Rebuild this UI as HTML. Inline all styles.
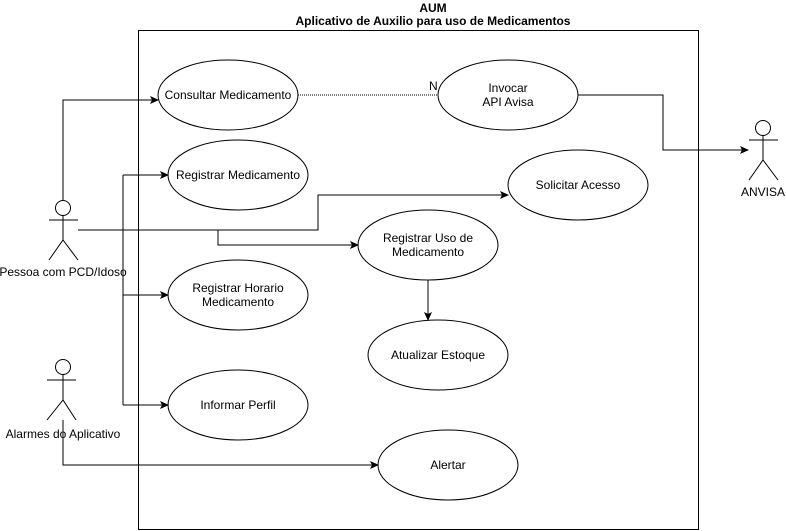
<!DOCTYPE html>
<html><head><meta charset="utf-8"><style>
html,body{margin:0;padding:0;background:#fff;}
svg{display:block;}
text{font-family:"Liberation Sans",Arial,sans-serif;font-size:12px;fill:#000;}
</style></head><body>
<svg width="786" height="531" viewBox="0 0 786 531" xmlns="http://www.w3.org/2000/svg">
<defs>
<marker id="a" markerWidth="10" markerHeight="10" refX="8" refY="4" orient="auto" markerUnits="userSpaceOnUse">
<path d="M0,0 L9,4 L0,8 L2,4 Z" fill="#000"/>
</marker>
</defs>
<text x="433" y="12" text-anchor="middle" font-weight="bold">AUM</text>
<text x="433" y="25" text-anchor="middle" font-weight="bold">Aplicativo de Auxilio para uso de Medicamentos</text>
<rect x="138.5" y="30.5" width="560" height="499" fill="none" stroke="#000"/>

<g fill="#fff" stroke="#000">
<ellipse cx="228" cy="95" rx="70" ry="35"/>
<ellipse cx="508" cy="95" rx="70" ry="35"/>
<ellipse cx="238" cy="175" rx="70" ry="35"/>
<ellipse cx="578" cy="185" rx="70" ry="35"/>
<ellipse cx="428" cy="245" rx="70" ry="35"/>
<ellipse cx="238" cy="295" rx="70" ry="35"/>
<ellipse cx="438" cy="355" rx="70" ry="35"/>
<ellipse cx="238" cy="405" rx="70" ry="35"/>
<ellipse cx="448" cy="465" rx="70" ry="35"/>
</g>
<g text-anchor="middle">
<text x="228" y="99">Consultar Medicamento</text>
<text x="508" y="92">Invocar</text>
<text x="508" y="106">API Avisa</text>
<text x="238" y="179">Registrar Medicamento</text>
<text x="578" y="189">Solicitar Acesso</text>
<text x="428" y="242">Registrar Uso de</text>
<text x="428" y="256">Medicamento</text>
<text x="238" y="292">Registrar Horario</text>
<text x="238" y="306">Medicamento</text>
<text x="438" y="359">Atualizar Estoque</text>
<text x="238" y="409">Informar Perfil</text>
<text x="448" y="469">Alertar</text>
</g>

<line x1="298" y1="95" x2="438" y2="95" stroke="#000" stroke-dasharray="1,1"/>
<text x="429" y="90" font-size="11">N</text>

<g fill="none" stroke="#000">
<!-- actors -->
<circle cx="63" cy="208" r="7.5" fill="#fff"/>
<path d="M63,215.5V240M49,220H78M49,260L63,240L78,260"/>
<circle cx="63" cy="367" r="7.5" fill="#fff"/>
<path d="M63,374.5V400M47,380H76M47,420L63,400L76,420"/>
<circle cx="763" cy="128" r="7.5" fill="#fff"/>
<path d="M763,135.5V160M749,140H778M749,180L763,160L778,180"/>

<path d="M63,200V100H158" marker-end="url(#a)"/>
<path d="M123,175V405"/>
<path d="M123,175H168" marker-end="url(#a)"/>
<path d="M123,295H168" marker-end="url(#a)"/>
<path d="M123,405H168" marker-end="url(#a)"/>
<path d="M78,230H318V195H508" marker-end="url(#a)"/>
<path d="M218,230V245H358" marker-end="url(#a)"/>
<path d="M578,95H663V150H748" marker-end="url(#a)"/>
<path d="M428,280V320" marker-end="url(#a)"/>
<path d="M63,420V465H378" marker-end="url(#a)"/>
</g>
<rect x="0" y="263" width="130" height="14" fill="none"/>
<text x="63" y="276" text-anchor="middle">Pessoa com PCD/Idoso</text>
<text x="63" y="438" text-anchor="middle">Alarmes do Aplicativo</text>
<text x="763" y="196" text-anchor="middle">ANVISA</text>
</svg>
</body></html>
